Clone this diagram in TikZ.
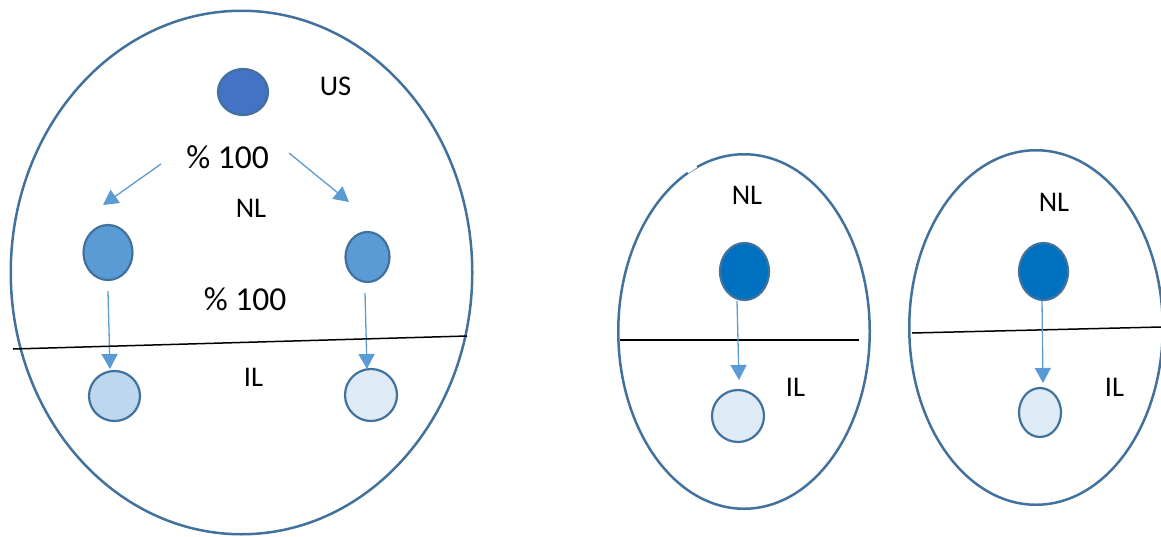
\documentclass[tikz,border=0pt]{standalone}
\usepackage{fontspec}
\setmainfont{Carlito}
\usetikzlibrary{arrows.meta,shapes.geometric}
\definecolor{outl}{HTML}{41719C}
\definecolor{usfill}{HTML}{4472C4}
\definecolor{midfill}{HTML}{5B9BD5}
\definecolor{blfill}{HTML}{BDD7EE}
\definecolor{lightfill}{HTML}{DEEBF7}
\definecolor{darkfill}{HTML}{0070C0}
\definecolor{arrowc}{HTML}{5B9BD5}
\tikzset{
  container/.style={ellipse, draw=outl, line width=2.5pt, inner sep=0pt},
  dot/.style={ellipse, draw=outl, line width=2.2pt, inner sep=0pt},
  lbl/.style={anchor=base, inner sep=0pt, font=\fontsize{28.5}{32}\selectfont},
  pct/.style={anchor=base, inner sep=0pt, font=\fontsize{33.5}{38}\selectfont},
  flow/.style={draw=arrowc, line width=1.3pt, -{Triangle[length=15pt,width=16pt]}},
  divider/.style={draw=black, line width=1.5pt},
}
\begin{document}
\begin{tikzpicture}[x=1pt,y=-1pt]
\useasboundingbox (0,0) rectangle (1161,536);
% containers
\node[container, minimum width=461.5pt, minimum height=523.5pt] (E0) at (241.5,272.5) {};
\node[container, minimum width=251.5pt, minimum height=354.5pt] (E1) at (744,331.5) {};
\node[container, minimum width=253.5pt, minimum height=354.5pt] (E2) at (1036,327.5) {};
\draw[white, line width=4.5pt] (687,171.5) -- (696,165.5);

% left big diagram
\begin{scope}
\clip (0,0) rectangle (269,536);
\node[dot, fill=usfill, minimum width=50pt, minimum height=46pt] (US) at (243,92) {};
\end{scope}
\node[lbl] (tUS) at (335.5,95) {US};
\node[pct] (p1) at (227.5,168) {\% 100};
\node[lbl] (tNL0) at (251,217) {NL};
\node[dot, fill=midfill, minimum width=49pt, minimum height=55pt] (M1) at (108,252.5) {};
\node[dot, fill=midfill, minimum width=44pt, minimum height=50pt] (M2) at (367.5,257) {};
\node[pct] (p2) at (245,310) {\% 100};
\node[lbl] (tIL0) at (253.5,386) {IL};
\node[dot, fill=blfill, minimum width=51pt, minimum height=50pt] (B1) at (114.5,396) {};
\node[dot, fill=lightfill, minimum width=52pt, minimum height=52pt] (B2) at (371,395) {};

\coordinate (a1s) at (161,164);
\coordinate (a1e) at (103,205);
\coordinate (a2s) at (289,153);
\coordinate (a2e) at (349,202);
\coordinate (v1s) at (108,291);
\coordinate (v1e) at (110,369);
\coordinate (v2s) at (365,293);
\coordinate (v2e) at (367,369);
\draw[flow] (a1s) -- (a1e);
\draw[flow] (a2s) -- (a2e);
\draw[flow] (v1s) -- (v1e);
\draw[flow] (v2s) -- (v2e);
\coordinate (h0a) at (13,349);
\coordinate (h0b) at (467,336);
\draw[divider] (h0a) -- (h0b);

% middle ellipse
\node[lbl] (tNL1) at (747,204) {NL};
\node[dot, fill=darkfill, minimum width=49pt, minimum height=57pt] (D1) at (744.5,271.5) {};
\node[dot, fill=lightfill, minimum width=52pt, minimum height=52pt] (L1) at (738,416) {};
\node[lbl] (tIL1) at (795.5,396) {IL};
\coordinate (h1a) at (620,340);
\coordinate (h1b) at (859,340);
\draw[divider] (h1a) -- (h1b);
\coordinate (d1s) at (737,301);
\coordinate (d1e) at (739,380);
\draw[flow] (d1s) -- (d1e);

% right ellipse
\node[lbl] (tNL2) at (1054,211) {NL};
\node[dot, fill=darkfill, minimum width=49pt, minimum height=57pt] (D2) at (1043.5,271.5) {};
\node[dot, fill=lightfill, minimum width=42pt, minimum height=49pt] (L2) at (1040,412.5) {};
\node[lbl] (tIL2) at (1114.5,396) {IL};
\coordinate (h2a) at (912,333);
\coordinate (h2b) at (1161,327);
\draw[divider] (h2a) -- (h2b);
\coordinate (d2s) at (1042,301);
\coordinate (d2e) at (1043,383);
\draw[flow] (d2s) -- (d2e);
\end{tikzpicture}
\end{document}
